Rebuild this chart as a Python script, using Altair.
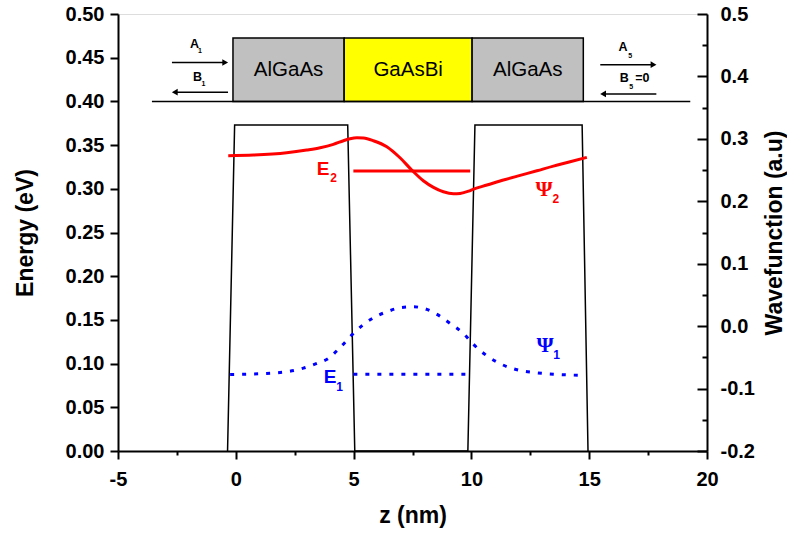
import altair as alt
import pandas as pd

SANS = "Liberation Sans"
SERIF = "Liberation Serif"

# ---------------- data ----------------
# ground state wavefunction (right axis, a.u.)
psi1_z = [-0.24, 1.31, 2.38, 2.87, 3.44, 3.93, 4.43, 4.95, 5.42, 5.91,
          6.41, 7.05, 7.54, 8.11, 8.60, 9.10, 9.66, 10.09, 10.66, 11.15,
          11.65, 12.14, 12.64, 13.48, 14.83]
psi1_w = [-0.0774, -0.0758, -0.0716, -0.0673, -0.0598, -0.0518, -0.0341, -0.0133, 0.0027, 0.0149,
          0.0229, 0.0300, 0.0310, 0.0268, 0.0176, 0.0043, -0.0117, -0.0293, -0.0476, -0.0588,
          -0.0668, -0.0716, -0.0742, -0.0769, -0.0790]

# first excited state wavefunction (right axis, a.u.)
psi2_z = [-0.32, 0.75, 2.16, 3.01, 3.58, 4.14, 4.57, 4.85, 5.14, 5.42,
          5.84, 6.41, 6.97, 7.47, 7.96, 8.39, 8.81, 9.24, 9.52, 9.88,
          10.09, 10.66, 11.36, 12.07, 12.78, 13.48, 14.19, 14.90]
psi2_w = [0.2729, 0.2740, 0.2777, 0.2821, 0.2858, 0.2912, 0.2970, 0.3002, 0.3018, 0.3013,
          0.2970, 0.2874, 0.2697, 0.2500, 0.2329, 0.2223, 0.2152, 0.2120, 0.2126, 0.2163,
          0.2196, 0.2260, 0.2340, 0.2415, 0.2489, 0.2564, 0.2633, 0.2704]

# bound state energies (eV) drawn across the GaAsBi well
level_names = ["E1", "E2"]
level_energy = [0.0878, 0.3204]
level_z_start = [4.99, 4.99]
level_z_end = [9.90, 9.95]

# conduction band profile: AlGaAs barriers around the well
pot_z = [-0.35, -0.05, 4.75, 5.05, 9.85, 10.15, 14.70, 14.95]
pot_e = [0.0, 0.373, 0.373, 0.0, 0.0, 0.373, 0.373, 0.0]

# layer stack sketch
layer_names = ["AlGaAs", "GaAsBi", "AlGaAs"]
layer_z0 = [-0.12, 4.60, 10.03]
layer_z1 = [4.60, 10.03, 14.75]
layer_fill = ["#c0c0c0", "#ffff00", "#c0c0c0"]
stack_bottom = 0.400
stack_top = 0.4725
substrate_z = [-3.56, 19.29]

# incoming / outgoing amplitudes A, B
arrow_z_from = [-2.71, -0.33, 15.47, 17.85]
arrow_z_to = [-0.33, -2.71, 17.85, 15.47]
arrow_e = [0.4445, 0.4105, 0.4420, 0.4085]

# tick values
x_ticks = [-5, -2.5, 0, 2.5, 5, 7.5, 10, 12.5, 15, 17.5, 20]
e_ticks = [round(0.025 * i, 3) for i in range(21)]
w_ticks = [round(-0.2 + 0.05 * i, 3) for i in range(15)]

# ---------------- tables ----------------
psi1 = pd.DataFrame({"z": psi1_z, "w": psi1_w})
psi2 = pd.DataFrame({"z": psi2_z, "w": psi2_w})
levels = pd.DataFrame({"name": level_names, "e": level_energy,
                       "z": level_z_start, "z1": level_z_end})
pot = pd.DataFrame({"z": pot_z, "e": pot_e, "order": range(len(pot_z))})
stack = pd.DataFrame({"name": layer_names, "z": layer_z0, "z1": layer_z1,
                      "fill": layer_fill, "e": stack_bottom, "e1": stack_top})
stack["zc"] = (stack["z"] + stack["z1"]) / 2
stack["ec"] = (stack_bottom + stack_top) / 2
substrate = pd.DataFrame({"z": [substrate_z[0]], "z1": [substrate_z[1]], "e": [stack_bottom]})
arrows = pd.DataFrame({"z": arrow_z_from, "z1": arrow_z_to, "e": arrow_e})
arrows["dir"] = ["right" if b > a else "left" for a, b in zip(arrow_z_from, arrow_z_to)]
arrows["zh"] = [b - 0.12 if b > a else b + 0.12 for a, b in zip(arrow_z_from, arrow_z_to)]

# curve and amplitude labels (main glyph + subscript)
sans_labels = pd.DataFrame({
    "z": [3.705, 4.151, 4.00, 4.406, -1.75, -1.518, -1.62, -1.369, 16.44, 16.74, 16.49, 16.78, 17.26],
    "e": [0.3227, 0.3129, 0.0841, 0.0727, 0.4657, 0.4577, 0.428, 0.4204, 0.4617, 0.4523, 0.4268, 0.4165, 0.4268],
    "text": ["E", "2", "E", "1", "A", "1", "B", "1", "A", "5", "B", "5", "=0"],
    "color": ["#ff0000", "#ff0000", "#0000ff", "#0000ff"] + ["#000000"] * 9,
    "size": [19, 12, 19, 12, 12.5, 7, 12.5, 7, 12.5, 7, 12.5, 7, 12.5],
})
psi_labels = pd.DataFrame({
    "z": [13.09, 13.13], "e": [0.2992, 0.1213],
    "text": ["Ψ", "Ψ"], "color": ["#ff0000", "#0000ff"],
})
psi_subs = pd.DataFrame({
    "z": [13.58, 13.62], "e": [0.2878, 0.1093],
    "text": ["2", "1"], "color": ["#ff0000", "#0000ff"],
})

# ---------------- scales & axes ----------------
x_scale = alt.Scale(domain=[-5, 20], nice=False, zero=False)
e_scale = alt.Scale(domain=[0, 0.5], nice=False, zero=False)
w_scale = alt.Scale(domain=[-0.2, 0.5], nice=False, zero=False)

label_style = dict(labelFont=SANS, labelFontWeight="bold", labelFontSize=20, labelColor="black",
                   titleFont=SANS, titleFontWeight="bold", titleFontSize=23, titleColor="black",
                   domainColor="black", domainWidth=2, tickColor="black", tickWidth=2, grid=False)

x_axis = alt.Axis(values=x_ticks, title="z (nm)", orient="bottom",
                  labelExpr="datum.value % 5 === 0 ? '' + datum.value : ''",
                  tickSize={"expr": "datum.value % 5 === 0 ? 8 : 4"},
                  labelPadding=10, titlePadding=15, labelFlush=False, labelOverlap=False,
                  **label_style)
e_axis = alt.Axis(values=e_ticks, title="Energy (eV)", orient="left",
                  labelExpr="round(datum.value * 100) % 5 === 0 ? format(datum.value, '.2f') : ''",
                  tickSize={"expr": "round(datum.value * 100) % 5 === 0 ? 8 : 4"},
                  labelPadding=6, titlePadding=28, labelFlush=False, labelOverlap=False,
                  **label_style)
w_axis_labels = alt.Axis(values=[v for v in w_ticks if round(v * 100) % 10 == 0],
                         title="Wavefunction (a.u)", orient="right", ticks=False, tickSize=0,
                         labelExpr="replace(format(datum.value, '.1f'), '\u2212', '-')",
                         labelPadding=13, titlePadding=9, titleAngle=270, titleBaseline="top",
                         labelFlush=False, labelOverlap=False, **label_style)
w_axis_ticks = alt.Axis(values=w_ticks, title=None, orient="left", offset=-589,
                        labels=False, domain=False,
                        tickSize={"expr": "round(datum.value * 100) % 10 === 0 ? 10 : 5"},
                        tickColor="black", tickWidth=2, grid=False)

# shared position encodings for everything on the energy scale
X = alt.X("z:Q", scale=x_scale)
Y = alt.Y("e:Q", scale=e_scale)

# ---------------- energy-scale layers ----------------
potential = alt.Chart(pot).mark_line(color="black", strokeWidth=1.5).encode(
    x=alt.X("z:Q", scale=x_scale, axis=x_axis),
    y=alt.Y("e:Q", scale=e_scale, axis=e_axis),
    order="order:Q",
)

level_lines = alt.Chart(levels).mark_rule(strokeWidth=3).encode(
    x=X, x2="z1:Q", y=Y,
    color=alt.Color("name:N", scale=alt.Scale(domain=level_names, range=["#0000ff", "#ff0000"]),
                    legend=None),
    strokeDash=alt.StrokeDash("name:N", scale=alt.Scale(domain=level_names, range=[[4, 8], [1, 0]]),
                              legend=None),
)

stack_boxes = alt.Chart(stack).mark_rect(stroke="black", strokeWidth=1.5).encode(
    x=X, x2="z1:Q", y=Y, y2="e1:Q",
    fill=alt.Fill("fill:N", scale=None),
)
stack_text = alt.Chart(stack).mark_text(font=SANS, fontSize=20.5, color="black").encode(
    x=alt.X("zc:Q", scale=x_scale),
    y=alt.Y("ec:Q", scale=e_scale),
    text="name:N",
)
substrate_line = alt.Chart(substrate).mark_rule(color="black", strokeWidth=1.5).encode(
    x=X, x2="z1:Q", y=Y,
)
arrow_shafts = alt.Chart(arrows).mark_rule(color="black", strokeWidth=1.5).encode(
    x=X, x2="zh:Q", y=Y,
)
arrow_heads = alt.Chart(arrows).mark_point(filled=True, color="black", size=45, opacity=1).encode(
    x=alt.X("zh:Q", scale=x_scale),
    y=Y,
    shape=alt.Shape("dir:N", scale=alt.Scale(domain=["right", "left"],
                                             range=["triangle-right", "triangle-left"]),
                    legend=None),
)
sans_text = alt.Chart(sans_labels).mark_text(font=SANS, fontWeight="bold").encode(
    x=X, y=Y,
    text="text:N",
    color=alt.Color("color:N", scale=None),
    size=alt.Size("size:Q", scale=None),
)
psi_text = alt.Chart(psi_labels).mark_text(font=SERIF, fontWeight="bold", fontSize=22).encode(
    x=X, y=Y,
    text="text:N",
    color=alt.Color("color:N", scale=None),
)
psi_sub_text = alt.Chart(psi_subs).mark_text(font=SANS, fontWeight="bold", fontSize=12).encode(
    x=X, y=Y,
    text="text:N",
    color=alt.Color("color:N", scale=None),
)

energy_group = alt.layer(potential, level_lines, stack_boxes, stack_text, substrate_line,
                         arrow_shafts, arrow_heads, sans_text, psi_text, psi_sub_text)

# ---------------- wavefunction-scale layers ----------------
psi2_line = alt.Chart(psi2).mark_line(color="#ff0000", strokeWidth=3, interpolate="monotone").encode(
    x=X,
    y=alt.Y("w:Q", scale=w_scale, axis=w_axis_labels),
)
psi1_line = alt.Chart(psi1).mark_line(color="#0000ff", strokeWidth=3, strokeDash=[4, 8],
                                      interpolate="monotone").encode(
    x=X,
    y=alt.Y("w:Q", scale=w_scale, axis=w_axis_ticks),
)
wave_group = alt.layer(psi2_line, psi1_line)

chart = alt.layer(energy_group, wave_group).resolve_scale(y="independent").properties(
    width=589, height=437,
    autosize=alt.AutoSizeParams(type="none"),
    padding={"left": 118, "top": 14, "right": 80, "bottom": 86},
).configure_view(stroke=None).configure(background="white")

chart.save("out.html", embed_options={"renderer": "svg", "actions": False})
